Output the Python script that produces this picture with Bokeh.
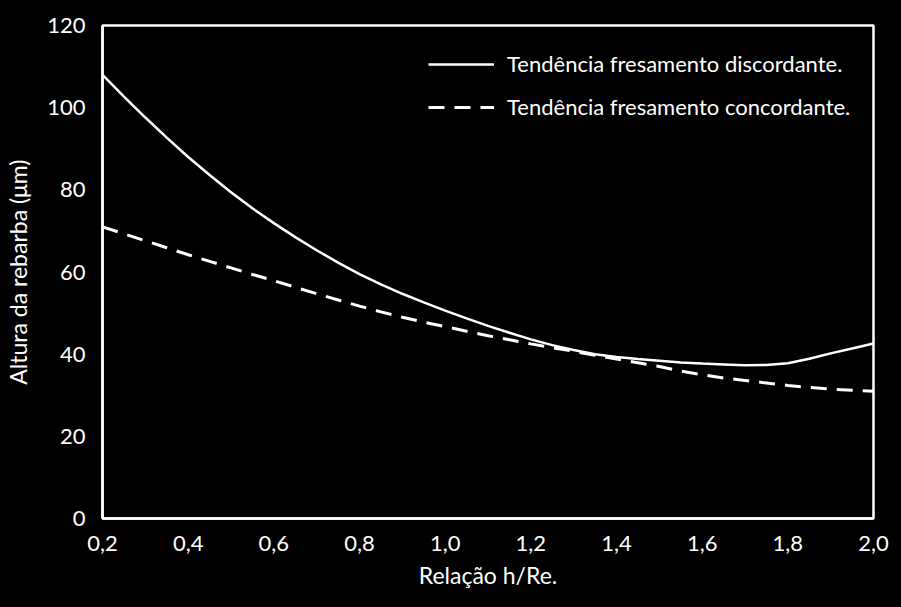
from bokeh.plotting import figure
from bokeh.models import FixedTicker, Legend, LegendItem, Range1d
from bokeh.embed import file_html
from bokeh.resources import INLINE

# Data
x_vals = [0.20, 0.25, 0.30, 0.35, 0.40, 0.45, 0.50, 0.55, 0.60, 0.65,
          0.70, 0.75, 0.80, 0.85, 0.90, 0.95, 1.00, 1.05, 1.10, 1.15,
          1.20, 1.25, 1.30, 1.35, 1.40, 1.45, 1.50, 1.55, 1.60, 1.65,
          1.70, 1.75, 1.80, 1.85, 1.90, 1.95, 2.00]
discordante = [108.0, 102.7, 97.6, 92.7, 88.0, 83.6, 79.4, 75.5, 71.9, 68.5,
               65.3, 62.3, 59.5, 57.0, 54.7, 52.6, 50.6, 48.7, 46.9, 45.2,
               43.6, 42.2, 41.0, 40.0, 39.3, 38.8, 38.4, 38.0, 37.7, 37.5,
               37.3, 37.35, 37.8, 38.9, 40.2, 41.4, 42.6]
concordante = [71.0, 69.3, 67.6, 65.9, 64.2, 62.6, 61.0, 59.4, 57.9, 56.3,
               54.7, 53.2, 51.7, 50.3, 49.0, 47.8, 46.7, 45.6, 44.5, 43.5,
               42.5, 41.6, 40.7, 39.7, 38.8, 37.9, 37.0, 35.9, 35.0, 34.2,
               33.6, 33.0, 32.4, 31.9, 31.5, 31.2, 31.0]

x_ticks = [0.2, 0.4, 0.6, 0.8, 1.0, 1.2, 1.4, 1.6, 1.8, 2.0]
x_tick_labels = ["0,2", "0,4", "0,6", "0,8", "1,0", "1,2", "1,4", "1,6", "1,8", "2,0"]
y_ticks = [0, 20, 40, 60, 80, 100, 120]

series_names = ["Tendência fresamento discordante.", "Tendência fresamento concordante."]
x_title = "Relação h/Re."
y_title = "Altura da rebarba (μm)"

FONT = "Lato"
FG = "#ffffff"

p = figure(width=893, height=599, output_backend="svg", toolbar_location=None,
           x_range=Range1d(0.2, 2.0), y_range=Range1d(0, 120),
           min_border_left=102, min_border_right=20, min_border_top=25, min_border_bottom=81)
p.background_fill_color = "#000000"
p.border_fill_color = "#000000"
p.outline_line_color = FG
p.outline_line_width = 2.5
p.grid.visible = False

r1 = p.line(x_vals, discordante, line_color=FG, line_width=2.5)
r2 = p.line(x_vals, concordante, line_color=FG, line_width=3, line_dash="16 10")

for ax in (p.xaxis[0], p.yaxis[0]):
    ax.axis_line_color = FG
    ax.axis_line_width = 2.5
    ax.major_tick_line_color = None
    ax.minor_tick_line_color = None
    ax.major_label_text_color = FG
    ax.major_label_text_font = FONT
    ax.major_label_text_font_size = "22px"
    ax.axis_label_text_color = FG
    ax.axis_label_text_font = FONT
    ax.axis_label_text_font_size = "23px"
    ax.axis_label_text_font_style = "normal"

p.xaxis[0].ticker = FixedTicker(ticks=x_ticks)
p.xaxis[0].major_label_overrides = {t: l for t, l in zip(x_ticks, x_tick_labels)}
p.xaxis[0].major_label_standoff = 11
p.xaxis[0].axis_label = x_title
p.xaxis[0].axis_label_standoff = 7

p.yaxis[0].ticker = FixedTicker(ticks=y_ticks)
p.yaxis[0].major_label_standoff = 11
p.yaxis[0].axis_label = y_title
p.yaxis[0].axis_label_standoff = 12

legend = Legend(items=[LegendItem(label=series_names[0], renderers=[r1]),
                       LegendItem(label=series_names[1], renderers=[r2])],
                location=(326, 398))
legend.background_fill_alpha = 0
legend.border_line_color = None
legend.label_text_color = FG
legend.label_text_font = FONT
legend.label_text_font_size = "22px"
legend.glyph_width = 66
legend.glyph_height = 24
legend.label_height = 24
legend.spacing = 16
legend.padding = 0
legend.margin = 0
legend.label_standoff = 13
p.add_layout(legend, "center")

html = file_html(p, INLINE)
html = html.replace("</head>", "<style>html,body{background:#000000;}</style></head>", 1)
open("out.html", "w").write(html)
